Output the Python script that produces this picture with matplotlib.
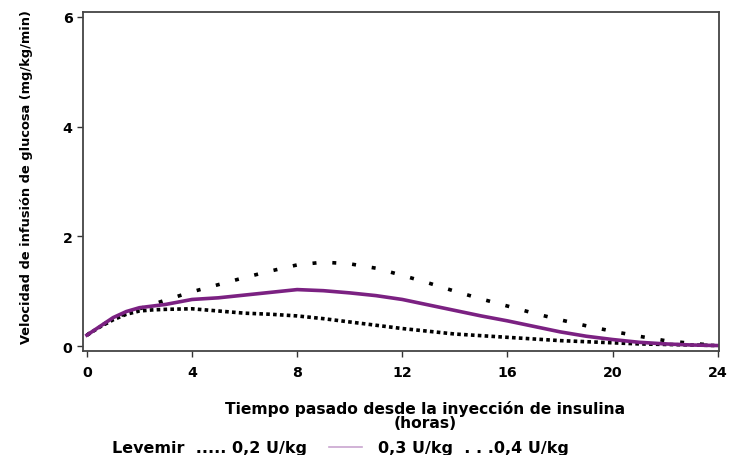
import numpy as np
import matplotlib.pyplot as plt
from matplotlib.lines import Line2D

plt.rcParams['font.family'] = ['DejaVu Sans']
plt.rcParams['font.weight'] = 'bold'

# hours since injection
hours = [0, 0.5, 1, 1.5, 2, 2.5, 3, 4, 5, 6, 7, 8, 9, 10, 11, 12, 13, 14, 15, 16, 17, 18, 19, 20, 21, 22, 23, 24]

# glucose infusion rate (mg/kg/min)
dose_02 = [0.2, 0.35, 0.48, 0.58, 0.64, 0.66, 0.67, 0.68, 0.64, 0.6, 0.58, 0.55, 0.5, 0.44, 0.38, 0.32, 0.27, 0.22, 0.19, 0.16, 0.13, 0.1, 0.08, 0.06, 0.04, 0.03, 0.02, 0.01]
dose_03 = [0.2, 0.36, 0.52, 0.63, 0.7, 0.73, 0.76, 0.85, 0.88, 0.93, 0.98, 1.03, 1.01, 0.97, 0.92, 0.85, 0.75, 0.65, 0.55, 0.46, 0.36, 0.26, 0.18, 0.12, 0.07, 0.04, 0.02, 0.01]
dose_04 = [0.2, 0.36, 0.5, 0.6, 0.68, 0.76, 0.84, 0.99, 1.12, 1.25, 1.37, 1.48, 1.53, 1.5, 1.42, 1.29, 1.15, 1.0, 0.86, 0.73, 0.6, 0.48, 0.37, 0.27, 0.18, 0.1, 0.05, 0.01]

xticks = [0, 4, 8, 12, 16, 20, 24]
yticks = [0, 2, 4, 6]

fig = plt.figure(figsize=(7.31, 4.56), dpi=100)
ax = fig.add_axes([0.1135, 0.228, 0.87, 0.7435])

ax.plot(hours, dose_02, color='black', lw=2.6, linestyle=(0, (1.0, 0.9)))
ax.plot(hours, dose_04, color='black', lw=2.6, linestyle=(0, (1.1, 4.4)))
ax.plot(hours, dose_03, color='#7B2182', lw=2.6)

ax.set_xlim(-0.15, 24.05)
ax.set_ylim(-0.09, 6.09)
ax.set_xticks(xticks)
ax.set_yticks(yticks)
ax.tick_params(labelsize=10.2, length=4, width=1, colors='#333333', labelcolor='black')
ax.tick_params(axis='x', pad=6)
for lab in ax.get_xticklabels() + ax.get_yticklabels():
    lab.set_fontweight('bold')
for s in ax.spines.values():
    s.set_linewidth(1.3)
    s.set_color('#444444')

fig.text(0.036, 0.612, 'Velocidad de infusión de glucosa (mg/kg/min)', rotation=90,
         ha='center', va='center', fontsize=9.4, fontweight='bold')
fig.text(0.582, 0.088, 'Tiempo pasado desde la inyección de insulina\n(horas)',
         ha='center', va='center', fontsize=11.2, fontweight='bold', linespacing=0.95)

fig.text(0.153, 0.016, 'Levemir  ..... 0,2 U/kg', ha='left', va='center', fontsize=11.5, fontweight='bold')
fig.add_artist(Line2D([0.450, 0.495], [0.018, 0.018], color='#C9A6CF', lw=1.2, transform=fig.transFigure))
fig.text(0.517, 0.016, '0,3 U/kg  . . .0,4 U/kg', ha='left', va='center', fontsize=11.5, fontweight='bold')

fig.savefig('out.png', dpi=100)
